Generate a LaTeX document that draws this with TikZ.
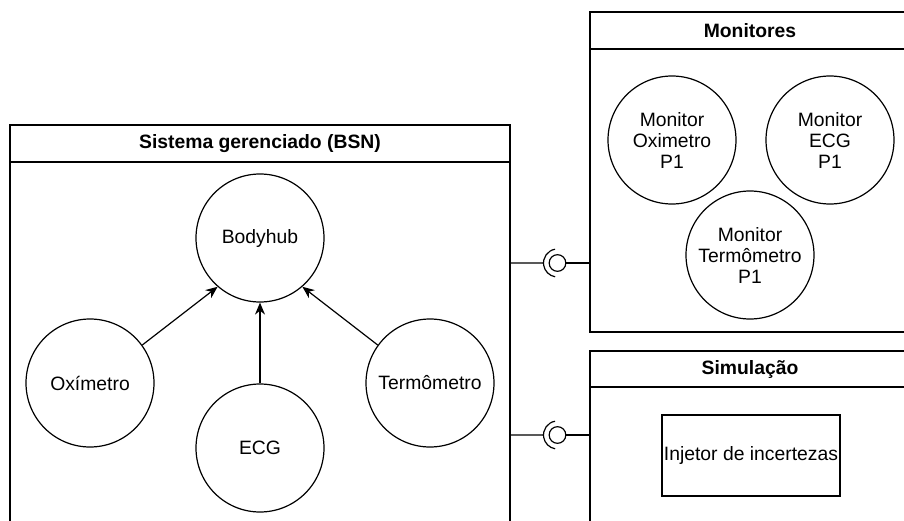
\documentclass[tikz,border=0pt]{standalone}
\usepackage{fontspec}
\setmainfont{Liberation Sans}
\usepackage{tikz}
\usetikzlibrary{arrows.meta,positioning}

\begin{document}
\begin{tikzpicture}[x=0.75pt,y=-0.75pt,line width=0.9pt,
font=\fontsize{14.5}{15.75}\selectfont,
bola/.style={draw,circle,minimum size=96pt,inner sep=0pt,align=center},
titulo/.style={font=\fontsize{14.5}{15.75}\selectfont\bfseries},
seta/.style={-{Stealth[length=9pt,width=7.5pt]}},
soquete/.style={draw,circle,minimum size=12.5pt,inner sep=0pt}]
\useasboundingbox (0,0) rectangle (904,521);
\clip (0,0) rectangle (904,521);
% containers
\draw (10,540)--(10,125)--(510,125)--(510,540) (10,162)--(510,162);
\draw (920,12)--(590,12)--(590,332)--(920,332) (590,49)--(920,49);
\draw (920,351)--(590,351)--(590,540) (590,387)--(920,387);
\node[titulo] (tbsn) at (260,143.5) {Sistema gerenciado (BSN)};
\node[titulo] (tmon) at (750,30.5) {Monitores};
\node[titulo] (tsim) at (750,369) {Simulação};
% BSN
\node[bola] (hub) at (260,238) {Bodyhub};
\node[bola] (oxi) at (90,383) {Oxímetro};
\node[bola] (ecg) at (260,448) {ECG};
\node[bola] (term) at (430,383) {Termômetro};
\draw[seta] (oxi.36)--(hub.229);
\draw[seta] (ecg.north)--(hub.south);
\draw[seta] (term.144)--(hub.311);
% monitores
\node[bola] (moxi) at (672,140) {Monitor\\Oximetro\\P1};
\node[bola] (mecg) at (830,140) {Monitor\\ECG\\P1};
\node[bola] (mterm) at (750,255) {Monitor\\Termômetro\\P1};
% simulacao
\node[draw,minimum width=133.5pt,minimum height=60.75pt,inner sep=0pt] (inj) at (751,455.5) {Injetor de incertezas};
% interfaces
\coordinate (bsnA) at (510,263);
\coordinate (monA) at (590,263);
\coordinate (bsnB) at (510,435);
\coordinate (simB) at (590,435);
\node[soquete] (ifmon) at (557.5,263) {};
\node[soquete] (ifsim) at (557.5,435) {};
\draw (bsnA)--([xshift=-10.5pt]ifmon.center) ([shift={(100:10.5pt)}]ifmon.center) arc[start angle=100,end angle=260,radius=10.5pt];
\draw (ifmon)--(monA);
\draw (bsnB)--([xshift=-10.5pt]ifsim.center) ([shift={(100:10.5pt)}]ifsim.center) arc[start angle=100,end angle=260,radius=10.5pt];
\draw (ifsim)--(simB);
\end{tikzpicture}
\end{document}
